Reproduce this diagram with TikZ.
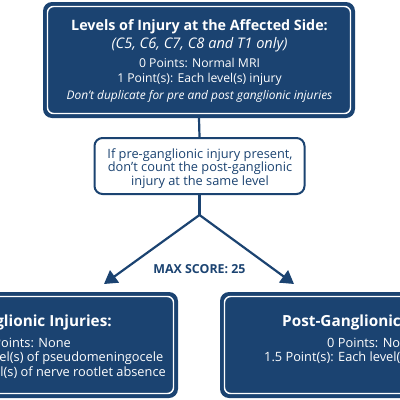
\documentclass[tikz,border=0pt]{standalone}
\usepackage{fontspec}
\setmainfont{Open Sans}
\usetikzlibrary{arrows.meta}
\definecolor{navy}{RGB}{27,67,113}
\tikzset{
  navybox/.style={fill=navy, rounded corners=9pt, inner sep=0pt},
  innerline/.style={draw=white, line width=1.4pt, rounded corners=6pt, inner sep=0pt},
  whitebox/.style={fill=white, draw=navy, line width=2pt, rounded corners=8pt, inner sep=0pt},
  conn/.style={draw=navy, line width=2.2pt},
  arr/.style={conn, -{Triangle[length=13pt,width=15pt]}},
  wt/.style={text=white, inner sep=0pt, font=\fontsize{12.2}{13}\selectfont},
  wtb/.style={text=white, inner sep=0pt, font=\fontsize{14.3}{15}\selectfont\bfseries},
  wti/.style={text=white, inner sep=0pt, font=\fontsize{12}{13}\selectfont\itshape},
  bt/.style={text=white, inner sep=0pt, font=\fontsize{12.8}{13}\selectfont},
  btb/.style={text=white, inner sep=0pt, font=\fontsize{15.3}{16}\selectfont\bfseries},
  nt/.style={text=navy, inner sep=0pt, font=\fontsize{12.8}{14}\selectfont},
}
\begin{document}
\begin{tikzpicture}[x=1pt,y=-1pt]
\useasboundingbox (0,0) rectangle (400,400);
\clip (0,0) rectangle (400,400);
% top box
\node[navybox, minimum width=312pt, minimum height=116pt] (top) at (199,60) {};
\node[innerline, minimum width=303pt, minimum height=107pt] (topin) at (top.center) {};
\node[wtb] (t1) at (199.5,27) {Levels of Injury at the Affected Side:};
\node[wti, font=\fontsize{14.6}{15}\selectfont\itshape] (t2) at (199.5,45) {(C5, C6, C7, C8 and T1 only)};
\node[wt] (t3) at (199.5,63) {0 Points: Normal MRI};
\node[wt] (t4) at (199.5,79) {1 Point(s): Each level(s) injury};
\node[wti, font=\fontsize{11.9}{12}\selectfont\itshape] (t5) at (199.5,96) {Don’t duplicate for pre and post ganglionic injuries};
% middle box
\node[whitebox, minimum width=210pt, minimum height=56pt] (mid) at (199.5,166) {};
\node[nt] (m1) at (200,155) {If pre-ganglionic injury present,};
\node[nt] (m2) at (200,168.5) {don’t count the post-ganglionic};
\node[nt] (m3) at (200,182) {injury at the same level};
% connectors
\coordinate (split) at (199.5,215);
\coordinate (ltip) at (104,284);
\coordinate (rtip) at (294,284);
\draw[conn] (top.south) -- (mid.north);
\draw[conn] (mid.south) -- (split);
\draw[arr] (split) -- (ltip);
\draw[arr] (split) -- (rtip);
\node[text=navy, inner sep=0pt, font=\fontsize{12.4}{13}\selectfont\bfseries] (max) at (199.5,269) {MAX SCORE: 25};
% bottom left box
\node[navybox, minimum width=300pt, minimum height=106pt] (lbox) at (28,345) {};
\node[innerline, minimum width=291pt, minimum height=97pt] (lboxin) at (lbox.center) {};
\node[btb, anchor=east] (l1) at (112,323) {Pre-Ganglionic Injuries:};
\node[bt, anchor=east] (l2) at (71,343) {0 Points: None};
\node[bt, anchor=east] (l3) at (163.5,358) {2 Point(s): Each level(s) of pseudomeningocele};
\node[bt, anchor=east] (l4) at (166,373) {2 Point(s): Each level(s) of nerve rootlet absence};
% bottom right box
\node[navybox, minimum width=300pt, minimum height=106pt] (rbox) at (370,345) {};
\node[innerline, minimum width=291pt, minimum height=97pt] (rboxin) at (rbox.center) {};
\node[btb, anchor=west] (r1) at (282,323) {Post-Ganglionic Injuries:};
\node[bt, anchor=west] (r2) at (327,343) {0 Points: None};
\node[bt, anchor=west] (r3) at (264,358) {1.5 Point(s): Each level(s) injury};
\end{tikzpicture}
\end{document}
